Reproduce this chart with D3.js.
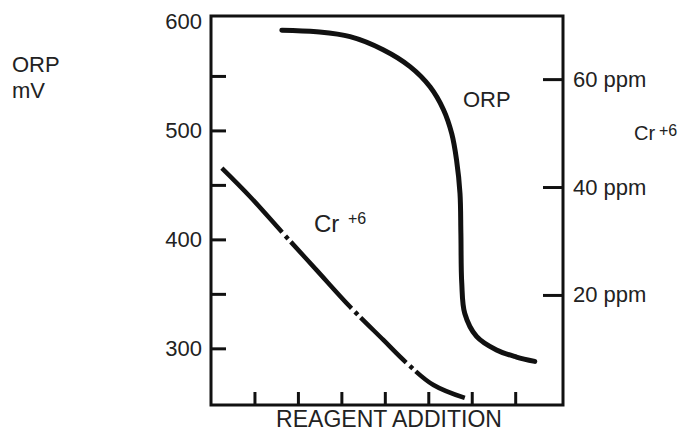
<!DOCTYPE html>
<html>
<head>
<meta charset="utf-8">
<script src="https://cdnjs.cloudflare.com/ajax/libs/d3/7.8.5/d3.min.js"></script>
<style>
  body { margin: 0; background: #fff; }
  text { font-family: "Liberation Sans", Arial, sans-serif; fill: #222; }
</style>
</head>
<body>
<div id="chart"></div>
<script>
//////////////// data //////////////////
// reagent addition (arbitrary units, ticks 1..7) vs ORP in mV
var orpX = [1.63, 2.43, 3.2, 3.96, 4.58, 5.04, 5.35, 5.54, 5.65, 5.73, 5.75, 5.77, 5.84, 6.11, 6.57, 7.03, 7.45];
var orpMv = [592, 590.5, 586, 574, 558.5, 540, 519, 497, 473, 442, 406, 360, 332, 311, 298.5, 292, 288];

// Cr+6 in ppm (right axis)
var crX = [0.25, 0.9, 1.66, 2.43, 3.2, 3.96, 4.5, 5.12, 5.84];
var crPpm = [43.5, 38.2, 31.4, 24.6, 17.8, 11.7, 7.4, 3.3, 0.9];

var leftTicks = [350, 450, 550, 300, 400, 500];
var leftLabels = [300, 400, 500, 600];
var rightTicks = [20, 40, 60];
var bottomTicks = [1, 2, 3, 4, 5, 6, 7];

//////////////// basic layout //////////////////
var W = 689, H = 433;
var frame = {left: 211, right: 563, top: 16, bottom: 405};

var svg = d3.select("#chart")
  .append("svg")
    .attr("width", W)
    .attr("height", H);

var x = d3.scaleLinear().domain([0, 8.1]).range([frame.left, frame.right]);
var yL = d3.scaleLinear().domain([248, 605]).range([frame.bottom, frame.top]);
var yR = d3.scaleLinear().domain([-0.4, 71.7]).range([frame.bottom, frame.top]);

// frame box
svg.append("rect")
    .attr("x", frame.left)
    .attr("y", frame.top)
    .attr("width", frame.right - frame.left)
    .attr("height", frame.bottom - frame.top)
    .attr("fill", "none")
    .attr("stroke", "#111")
    .attr("stroke-width", 3);

// left ticks (pointing in)
var gl = svg.append("g")
    .attr("transform", "translate(" + frame.left + ",0)")
    .call(d3.axisLeft(yL).tickValues(leftTicks).tickSize(-15).tickFormat(""));
gl.select(".domain").remove();

// left labels
var gll = svg.append("g")
    .attr("transform", "translate(" + frame.left + ",0)")
    .call(d3.axisLeft(yL).tickValues(leftLabels).tickSize(0).tickPadding(9));
gll.select(".domain").remove();

// right axis
var gr = svg.append("g")
    .attr("transform", "translate(" + frame.right + ",0)")
    .call(d3.axisRight(yR).tickValues(rightTicks).tickSize(-20).tickPadding(10)
      .tickFormat(function(d) { return d + " ppm"; }));
gr.select(".domain").remove();

// bottom ticks
var gb = svg.append("g")
    .attr("transform", "translate(0," + frame.bottom + ")")
    .call(d3.axisBottom(x).tickValues(bottomTicks).tickSize(-13).tickFormat(""));
gb.select(".domain").remove();

svg.selectAll(".tick line")
    .attr("stroke", "#111")
    .attr("stroke-width", 3);
svg.selectAll(".tick text")
    .attr("font-size", "22px")
    .attr("font-family", "Liberation Sans, Arial, sans-serif")
    .attr("fill", "#222");

//////////////// curves //////////////////
var orpData = orpX.map(function(d, i) { return [d, orpMv[i]]; });
var crData = crX.map(function(d, i) { return [d, crPpm[i]]; });

var orpLine = d3.line()
    .x(function(d) { return x(d[0]); })
    .y(function(d) { return yL(d[1]); })
    .curve(d3.curveCatmullRom.alpha(0.5));

var crLine = d3.line()
    .x(function(d) { return x(d[0]); })
    .y(function(d) { return yR(d[1]); })
    .curve(d3.curveCatmullRom.alpha(0.5));

svg.append("path")
    .datum(orpData)
    .attr("d", orpLine)
    .attr("fill", "none")
    .attr("stroke", "#111")
    .attr("stroke-width", 5)
    .attr("stroke-linecap", "round");

// dash-dot line
svg.append("path")
    .datum(crData)
    .attr("d", crLine)
    .attr("fill", "none")
    .attr("stroke", "#111")
    .attr("stroke-width", 4.5)
    .attr("stroke-dasharray", "88,5,4,4,90,5,4,4,64,5,4,4,200");

//////////////// labels //////////////////
svg.append("text").attr("x", 12).attr("y", 72).attr("font-size", "22px").text("ORP");
svg.append("text").attr("x", 12).attr("y", 98).attr("font-size", "22px").text("mV");

svg.append("text").attr("x", 463).attr("y", 107).attr("font-size", "22px").text("ORP");

var cr1 = svg.append("text").attr("x", 314).attr("y", 232).attr("font-size", "24px");
cr1.append("tspan").text("Cr");
cr1.append("tspan").attr("x", 348).attr("y", 224).attr("font-size", "16px").text("+6");

var cr2 = svg.append("text").attr("x", 634).attr("y", 140).attr("font-size", "20px");
cr2.append("tspan").text("Cr");
cr2.append("tspan").attr("x", 659).attr("y", 136).attr("font-size", "16px").text("+6");

svg.append("text")
    .attr("x", 389)
    .attr("y", 427)
    .attr("text-anchor", "middle")
    .attr("font-size", "23px")
    .text("REAGENT ADDITION");
</script>
</body>
</html>
